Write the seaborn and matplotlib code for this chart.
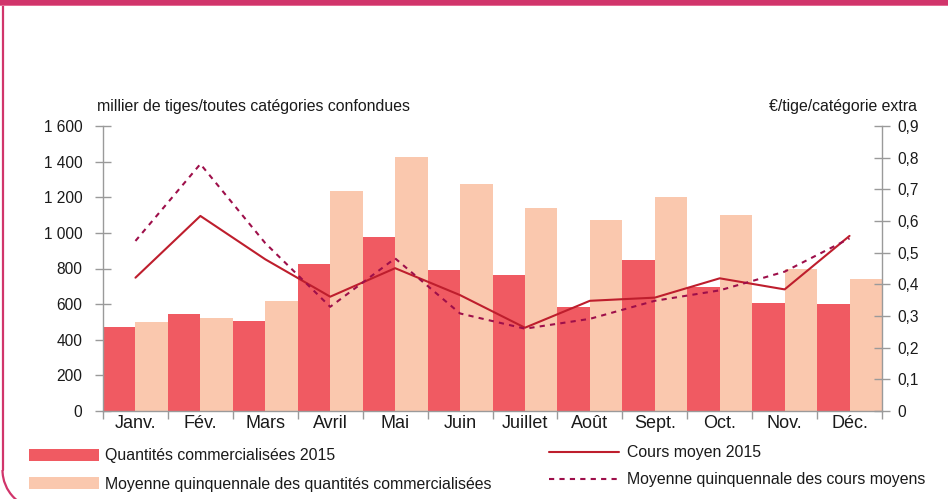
import matplotlib
matplotlib.use("Agg")
import matplotlib.pyplot as plt
from matplotlib import font_manager
from matplotlib.patches import Rectangle, Arc, Patch
from matplotlib.lines import Line2D
from matplotlib.transforms import IdentityTransform
from matplotlib.ticker import FixedLocator, FuncFormatter
import seaborn as sns
import pandas as pd
import numpy as np

months = ["Janv.", "Fév.", "Mars", "Avril", "Mai", "Juin", "Juillet", "Août",
          "Sept.", "Oct.", "Nov.", "Déc."]
qty_2015 = [471, 542, 505, 823, 976, 791, 763, 585, 847, 696, 606, 600]
qty_avg5 = [499, 520, 619, 1234, 1425, 1275, 1139, 1070, 1200, 1098, 795, 740]
price_2015 = [0.421, 0.616, 0.479, 0.361, 0.451, 0.366, 0.263, 0.348, 0.358, 0.419, 0.384, 0.553]
price_avg5 = [0.537, 0.780, 0.530, 0.329, 0.482, 0.308, 0.260, 0.291, 0.348, 0.381, 0.440, 0.545]

lab_q15 = "Quantités commercialisées 2015"
lab_qavg = "Moyenne quinquennale des quantités commercialisées"
lab_p15 = "Cours moyen 2015"
lab_pavg = "Moyenne quinquennale des cours moyens"

sns.set_theme(style="white")
names = {f.name for f in font_manager.fontManager.ttflist}
base = "Liberation Sans" if "Liberation Sans" in names else "DejaVu Sans"
narrow = "Liberation Sans Narrow" if "Liberation Sans Narrow" in names else base
plt.rcParams["font.family"] = [base, "DejaVu Sans"]

RED = "#F05A62"
PEACH = "#FAC8AE"
LINE1 = "#BE1E2D"
LINE2 = "#9E0F4A"
GRID = "#9A9A9A"
TXT = "#1A1A1A"
BORDER = "#D1356B"

W, H = 948, 499
fig = plt.figure(figsize=(W/100, H/100), dpi=100)
ax = fig.add_axes([103/W, 1-411/H, (882-103)/W, (411-126)/H])

df = pd.DataFrame({
    "mois": months * 2,
    "valeur": qty_2015 + qty_avg5,
    "serie": [lab_q15] * 12 + [lab_qavg] * 12,
})
sns.barplot(data=df, x="mois", y="valeur", hue="serie", order=months,
            hue_order=[lab_q15, lab_qavg], palette=[RED, PEACH],
            width=1.0, dodge=True, saturation=1, ax=ax, legend=False,
            linewidth=0)

ax.set_xlim(-0.5, 11.5)
ax.set_ylim(0, 1600)
ax.set_yticks(np.arange(0, 1601, 200))
ax.yaxis.set_major_formatter(FuncFormatter(
    lambda v, p: f"{int(v):,}".replace(",", " ")))
ax.set_xlabel("")
ax.set_ylabel("")

ax2 = ax.twinx()
ldf = pd.DataFrame({"x": np.arange(12), "p1": price_2015, "p2": price_avg5})
sns.lineplot(data=ldf, x="x", y="p1", ax=ax2, color=LINE1, linewidth=1.5)
sns.lineplot(data=ldf, x="x", y="p2", ax=ax2, color=LINE2, linewidth=1.5,
             linestyle=(0, (2.5, 2.5)))
ax2.set_ylim(0, 0.9)
ax2.set_yticks(np.arange(0, 0.91, 0.1))
ax2.yaxis.set_major_formatter(FuncFormatter(
    lambda v, p: "0" if abs(v) < 1e-9 else f"{v:.1f}".replace(".", ",")))
ax2.set_xlabel("")
ax2.set_ylabel("")
ax2.set_xlim(-0.5, 11.5)

for a in (ax, ax2):
    for s in a.spines.values():
        s.set_visible(False)
ax.spines["left"].set_visible(True)
ax.spines["bottom"].set_visible(True)
ax2.spines["right"].set_visible(True)
for s in (ax.spines["left"], ax.spines["bottom"], ax2.spines["right"]):
    s.set_color(GRID)
    s.set_linewidth(1.0)

ax.tick_params(axis="y", direction="inout", length=12, width=1, color=GRID,
               labelsize=11.2, labelcolor=TXT, pad=9, left=True)
ax2.tick_params(axis="y", direction="inout", length=12, width=1, color=GRID,
                labelsize=11.2, labelcolor=TXT, pad=5, right=True)
ax.set_xticks(np.arange(12))
ax.set_xticklabels(months, fontfamily=narrow, fontsize=13, color=TXT)
ax.tick_params(axis="x", length=0, pad=3, bottom=True)
ax.xaxis.set_minor_locator(FixedLocator(np.arange(-0.5, 12, 1.0)))
ax.tick_params(axis="x", which="minor", length=6, width=1, color=GRID,
               direction="out", bottom=True)

fig.text(97/W, 1-107/H, "millier de tiges/toutes catégories confondues",
         fontsize=11.4, color=TXT, ha="left", va="center")
fig.text(917/W, 1-107/H, "€/tige/catégorie extra",
         fontsize=11.4, color=TXT, ha="right", va="center")

h1 = [Patch(facecolor=RED, edgecolor="none", label=lab_q15),
      Patch(facecolor=PEACH, edgecolor="none", label=lab_qavg)]
leg1 = fig.legend(handles=h1, loc="upper left",
                  bbox_to_anchor=(26/W, 1-445/H), frameon=False,
                  prop={"family": narrow, "size": 11.4}, handlelength=4.4,
                  handleheight=0.8, handletextpad=0.4, labelspacing=0.85,
                  borderaxespad=0, borderpad=0.2)
for t in leg1.get_texts():
    t.set_color(TXT)
h2 = [Line2D([], [], color=LINE1, lw=1.5, label=lab_p15),
      Line2D([], [], color=LINE2, lw=1.5, linestyle=(0, (2.5, 2.5)), label=lab_pavg)]
leg2 = fig.legend(handles=h2, loc="upper left",
                  bbox_to_anchor=(546/W, 1-442/H), frameon=False,
                  prop={"family": narrow, "size": 11.4}, handlelength=4.4,
                  handletextpad=0.5, labelspacing=0.75,
                  borderaxespad=0, borderpad=0.2)
for t in leg2.get_texts():
    t.set_color(TXT)

# decorative frame (pixel coordinates, y up)
fig.patches.append(Rectangle((0, 1-5/H), 1, 5/H, transform=fig.transFigure,
                             facecolor=BORDER, edgecolor="none", zorder=5))
fig.patches.append(Rectangle((0, 1-6/H), 1, 1.2/H, transform=fig.transFigure,
                             facecolor="#E46C93", edgecolor="none", zorder=5))
r = 39
xl, ystart = 2.5, H - 470
fig.lines.append(Line2D([xl, xl], [H - 5, ystart], transform=IdentityTransform(),
                        color=BORDER, linewidth=1.6, zorder=5))
fig.patches.append(Arc((xl + r, ystart), 2 * r, 2 * r, theta1=180, theta2=270,
                       transform=IdentityTransform(), color=BORDER,
                       linewidth=1.6, zorder=5))

fig.savefig("out.png", dpi=100)
